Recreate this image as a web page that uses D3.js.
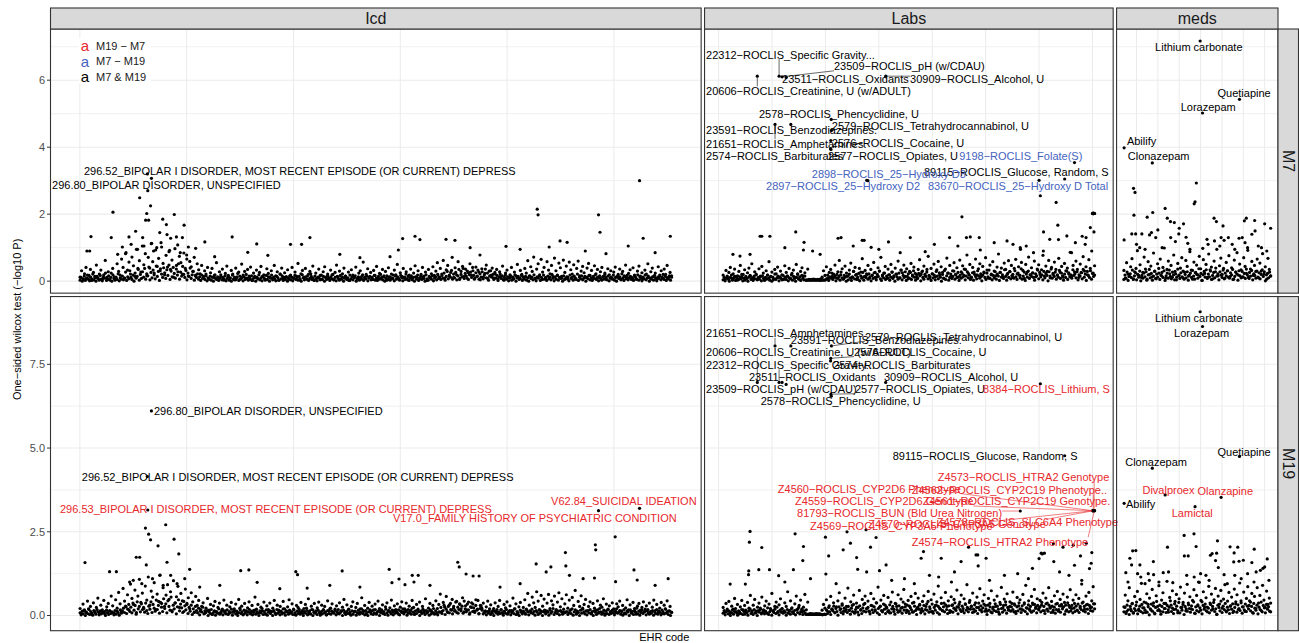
<!DOCTYPE html>
<html>
<head>
<meta charset="utf-8">
<script src="https://cdn.jsdelivr.net/npm/d3@7.9.0/dist/d3.min.js"></script>
<style>
  body { margin: 0; background: #fff; }
  svg text { font-family: "Liberation Sans", Arial, Helvetica, sans-serif; }
</style>
</head>
<body>
<svg id="chart" width="1299" height="643"></svg>
<script>
// facets (columns) and cohorts (rows)
const facetNames = ['Icd', 'Labs', 'meds'];
const rowNames = ['M7', 'M19'];
// EHR code index range of each facet
const codeStart = [1, 2771, 4541];
const codeEnd = [2770, 4510, 5228];
const yBreaks = [[0, 2, 4, 6], [0, 2.5, 5, 7.5]];
const legendKeys = ['m19', 'm7', 'both'];
const legendText = ['M19 \u2212 M7', 'M7 \u2212 M19', 'M7 & M19'];

// -log10 P of the bulk of codes, in code order
const icdM7Band = [0.12,0.31,0.05,0.22,0.41,0.08,0.17,0.35,0.02,0.26,0.14,0.48,0.09,0.21,0.33,0.06,0.19,0.62,0.11,0.28,
  0.04,0.24,0.38,0.13,0.07,0.52,0.29,0.18,0.66,0.41,0.09,0.85,0.33,0.57,0.21,0.72,0.46,0.14,0.95,0.38,
  0.61,0.27,1.05,0.49,0.82,0.16,0.71,0.39,1.12,0.58,0.24,0.93,0.44,0.68,0.31,1.02,0.53,0.19,0.77,0.42,
  0.88,0.35,0.63,0.12,0.97,0.47,0.28,0.74,0.55,0.21,0.84,0.38,0.66,0.15,0.59,0.43,0.29,0.71,0.18,0.52,
  0.34,0.22,0.47,0.09,0.31,0.16,0.41,0.06,0.25,0.38,0.11,0.19,0.55,0.07,0.28,0.14,0.36,0.03,0.23,0.45,
  0.17,0.08,0.32,0.21,0.04,0.39,0.13,0.27,0.06,0.51,0.18,0.29,0.09,0.35,0.15,0.42,0.02,0.24,0.11,0.33,
  0.07,0.26,0.44,0.14,0.19,0.05,0.37,0.23,0.12,0.31,0.08,0.47,0.16,0.28,0.03,0.21,0.39,0.1,0.25,0.13,
  0.34,0.06,0.18,0.41,0.09,0.27,0.15,0.53,0.04,0.22,0.32,0.11,0.38,0.07,0.2,0.29,0.14,0.45,0.02,0.24,
  0.1,0.36,0.17,0.05,0.28,0.43,0.12,0.21,0.08,0.33,0.19,0.04,0.26,0.48,0.13,0.3,0.07,0.22,0.39,0.15,
  0.09,0.27,0.02,0.34,0.18,0.11,0.42,0.06,0.24,0.31,0.14,0.57,0.08,0.2,0.37,0.12,0.26,0.05,0.32,0.17,
  0.44,0.1,0.23,0.07,0.35,0.16,0.29,0.03,0.4,0.13,0.21,0.08,0.33,0.19,0.5,0.06,0.25,0.14,0.38,0.11,
  0.28,0.04,0.18,0.36,0.09,0.24,0.46,0.12,0.31,0.07,0.2,0.41,0.15,0.27,0.02,0.35,0.1,0.22,0.43,0.17,
  0.3,0.55,0.13,0.38,0.21,0.62,0.08,0.34,0.47,0.16,0.26,0.71,0.11,0.4,0.19,0.58,0.05,0.29,0.44,0.14,
  0.36,0.09,0.25,0.52,0.18,0.31,0.06,0.42,0.15,0.27,0.04,0.37,0.12,0.23,0.48,0.08,0.3,0.17,0.39,0.1,
  0.21,0.35,0.07,0.28,0.14,0.45,0.03,0.24,0.33,0.11,0.19,0.41,0.06,0.27,0.16,0.5,0.09,0.32,0.2,0.13,
  0.38,0.24,0.61,0.15,0.43,0.29,0.72,0.08,0.36,0.52,0.19,0.65,0.27,0.41,0.11,0.58,0.33,0.22,0.47,0.14,
  0.69,0.31,0.18,0.54,0.4,0.09,0.63,0.26,0.45,0.12,0.57,0.34,0.21,0.49,0.07,0.38,0.6,0.16,0.3,0.44,
  0.25,0.11,0.39,0.53,0.17,0.32,0.06,0.46,0.22,0.35,0.1,0.28,0.41,0.14,0.24,0.05,0.37,0.19,0.31,0.08,
  0.27,0.42,0.13,0.2,0.36,0.04,0.29,0.16,0.48,0.09,0.23,0.34,0.12,0.4,0.18,0.06,0.3,0.45,0.15,0.25,
  0.07,0.33,0.21,0.52,0.1,0.28,0.39,0.14,0.24,0.05,0.43,0.18,0.31,0.09,0.36,0.2,0.47,0.12,0.26,0.16];
const icdM19Band = [0.21,0.06,0.34,0.15,0.09,0.43,0.18,0.27,0.03,0.38,0.12,0.24,0.52,0.08,0.31,0.17,0.45,0.05,0.26,0.36,
  0.14,0.58,0.29,0.07,0.47,0.22,0.69,0.35,0.11,0.81,0.43,0.26,0.62,0.17,0.94,0.51,0.33,0.76,0.09,0.58,
  1.08,0.39,0.67,0.21,0.88,0.46,1.15,0.31,0.73,0.55,0.98,0.18,0.64,0.42,1.21,0.36,0.83,0.27,0.61,0.92,
  0.48,0.71,0.15,1.04,0.37,0.56,0.87,0.24,0.66,0.44,0.12,0.79,0.33,0.53,0.2,0.68,0.41,0.09,0.57,0.3,
  0.45,0.13,0.27,0.38,0.06,0.22,0.51,0.16,0.33,0.04,0.29,0.42,0.1,0.24,0.37,0.08,0.19,0.46,0.14,0.31,
  0.05,0.26,0.39,0.11,0.2,0.34,0.07,0.48,0.17,0.28,0.02,0.36,0.13,0.23,0.41,0.09,0.3,0.15,0.55,0.19,
  0.33,0.08,0.25,0.14,0.4,0.04,0.29,0.18,0.37,0.11,0.22,0.45,0.06,0.31,0.16,0.27,0.09,0.42,0.2,0.13,
  0.26,0.47,0.1,0.35,0.19,0.03,0.3,0.24,0.12,0.39,0.07,0.21,0.33,0.15,0.5,0.05,0.28,0.17,0.36,0.11,
  0.23,0.4,0.08,0.31,0.16,0.27,0.02,0.44,0.13,0.22,0.35,0.09,0.19,0.29,0.06,0.38,0.14,0.25,0.48,0.1,
  0.32,0.18,0.05,0.27,0.41,0.12,0.24,0.36,0.08,0.2,0.53,0.15,0.3,0.04,0.22,0.39,0.11,0.28,0.17,0.34,
  0.07,0.43,0.21,0.13,0.32,0.06,0.26,0.38,0.15,0.23,0.46,0.1,0.29,0.18,0.35,0.03,0.25,0.41,0.12,0.2,
  0.37,0.09,0.28,0.16,0.45,0.24,0.05,0.33,0.19,0.4,0.11,0.27,0.14,0.5,0.08,0.22,0.36,0.13,0.3,0.06,
  0.44,0.21,0.33,0.64,0.12,0.39,0.25,0.57,0.09,0.31,0.18,0.48,0.27,0.15,0.42,0.07,0.35,0.2,0.53,0.11,
  0.29,0.16,0.4,0.08,0.24,0.34,0.13,0.47,0.19,0.05,0.3,0.22,0.37,0.1,0.26,0.43,0.14,0.32,0.07,0.21,
  0.38,0.12,0.27,0.45,0.18,0.06,0.33,0.23,0.41,0.09,0.29,0.15,0.52,0.2,0.35,0.04,0.26,0.39,0.13,0.24,
  0.47,0.19,0.66,0.31,0.12,0.55,0.38,0.24,0.71,0.43,0.16,0.6,0.28,0.49,0.09,0.37,0.63,0.21,0.44,0.32,
  0.58,0.14,0.4,0.68,0.26,0.5,0.11,0.35,0.62,0.22,0.46,0.17,0.54,0.3,0.75,0.08,0.42,0.27,0.59,0.19,
  0.33,0.48,0.13,0.27,0.41,0.07,0.36,0.22,0.15,0.44,0.1,0.31,0.25,0.5,0.05,0.34,0.18,0.29,0.12,0.38,
  0.2,0.09,0.35,0.26,0.43,0.14,0.3,0.06,0.23,0.47,0.17,0.32,0.11,0.39,0.21,0.04,0.28,0.36,0.16,0.24,
  0.41,0.12,0.29,0.18,0.37,0.07,0.25,0.46,0.15,0.33,0.1,0.22,0.39,0.06,0.31,0.19,0.44,0.13,0.27,0.09];
const labsM7Band = [0.18,0.05,0.32,0.11,0.26,0.41,0.08,0.22,0.36,0.14,0.03,0.29,0.47,0.12,0.2,0.34,0.07,0.25,0.39,0.16,
  0.52,0.1,0.28,0.21,0.06,0.37,0.15,0.44,0.24,0.09,0.31,0.18,0.58,0.13,0.27,0.04,0.35,0.22,0.42,0.11,
  0.3,0.19,0.05,0.46,0.26,0.14,0.38,0.08,0.23,0.33,0.12,0.5,0.2,0.07,0.29,0.4,0.16,0.25,0.03,0.36,
  0.05,0.04,0.05,0.06,0.05,0.04,0.05,0.05,0.06,0.12,0.31,0.17,0.43,0.09,0.26,0.35,0.14,0.21,0.48,0.1,
  0.28,0.62,0.19,0.37,0.07,0.45,0.24,0.15,0.33,0.54,0.11,0.29,0.41,0.2,0.06,0.38,0.27,0.67,0.13,0.32,
  0.22,0.47,0.09,0.35,0.18,0.56,0.26,0.12,0.4,0.3,0.71,0.15,0.24,0.44,0.08,0.36,0.19,0.5,0.27,0.13,
  0.39,0.21,0.6,0.1,0.33,0.25,0.48,0.14,0.37,0.07,0.29,0.53,0.18,0.42,0.23,0.11,0.35,0.64,0.2,0.3,
  0.45,0.16,0.27,0.74,0.09,0.38,0.22,0.51,0.13,0.34,0.59,0.19,0.43,0.26,0.08,0.36,0.69,0.24,0.47,0.15,
  0.31,0.55,0.2,0.4,0.12,0.63,0.28,0.46,0.17,0.35,0.78,0.23,0.5,0.1,0.41,0.27,0.66,0.19,0.37,0.52,
  0.14,0.44,0.25,0.7,0.33,0.09,0.48,0.21,0.58,0.3,0.16,0.42,0.81,0.26,0.39,0.12,0.54,0.35,0.2,0.61,
  0.28,0.47,0.11,0.38,0.65,0.22,0.43,0.17,0.56,0.32,0.08,0.5,0.27,0.72,0.19,0.4,0.24,0.6,0.13,0.36,
  0.49,0.2,0.34,0.77,0.15,0.45,0.29,0.62,0.1,0.41,0.23,0.57,0.35,0.18,0.68,0.26,0.44,0.12,0.53,0.31,
  0.39,0.21,0.86,0.16,0.47,0.28,0.6,0.35,0.11,0.51,0.25,0.73,0.3,0.43,0.19,0.64,0.38,0.9,0.24,0.46];
const labsM19Band = [0.24,0.09,0.36,0.15,0.42,0.07,0.28,0.19,0.51,0.12,0.33,0.05,0.26,0.45,0.17,0.3,0.1,0.39,0.22,0.6,
  0.14,0.31,0.48,0.08,0.25,0.37,0.18,0.55,0.11,0.29,0.43,0.06,0.34,0.21,0.66,0.13,0.27,0.4,0.09,0.32,
  0.5,0.2,0.12,0.38,0.27,0.71,0.15,0.44,0.23,0.08,0.35,0.58,0.19,0.3,0.46,0.11,0.25,0.63,0.17,0.4,
  0.05,0.06,0.05,0.04,0.05,0.06,0.05,0.05,0.04,0.16,0.33,0.22,0.47,0.12,0.29,0.57,0.19,0.38,0.09,0.26,
  0.44,0.68,0.2,0.35,0.13,0.52,0.27,0.82,0.16,0.41,0.3,0.61,0.1,0.37,0.24,0.75,0.18,0.48,0.33,0.58,
  0.21,0.43,0.12,0.66,0.29,0.5,0.17,0.38,0.85,0.25,0.46,0.14,0.6,0.31,0.22,0.54,0.08,0.4,0.7,0.19,
  0.36,0.27,0.62,0.13,0.49,0.24,0.78,0.34,0.16,0.45,0.28,0.57,0.1,0.39,0.66,0.2,0.52,0.31,0.15,0.42,
  0.59,0.18,0.35,0.72,0.26,0.47,0.12,0.64,0.3,0.41,0.88,0.22,0.53,0.15,0.37,0.69,0.27,0.44,0.09,0.56,
  0.32,0.48,0.19,0.76,0.25,0.4,0.61,0.14,0.5,0.33,0.92,0.21,0.45,0.28,0.67,0.11,0.38,0.55,0.24,0.8,
  0.17,0.43,0.62,0.3,0.13,0.51,0.36,0.74,0.2,0.46,0.27,0.58,0.1,0.39,0.84,0.23,0.49,0.32,0.65,0.16,
  0.41,0.26,0.7,0.35,0.12,0.54,0.29,0.47,0.19,0.63,0.38,0.9,0.22,0.44,0.15,0.57,0.33,0.78,0.25,0.5,
  0.2,0.45,0.31,0.67,0.14,0.52,0.37,0.83,0.24,0.42,0.1,0.59,0.34,0.72,0.18,0.48,0.28,0.64,0.39,0.13,
  0.55,0.3,0.77,0.21,0.46,0.36,0.62,0.15,0.51,0.27,0.94,0.4,0.19,0.58,0.33,0.69,0.23,0.44,0.86,0.35];
const medsM7Band = [0.32,0.08,0.55,0.21,0.14,0.43,0.67,0.05,0.28,0.38,0.91,0.17,0.49,0.11,0.26,0.72,0.36,0.03,0.58,0.2,
  0.45,0.13,0.84,0.3,0.07,0.52,0.24,0.66,0.16,0.41,0.99,0.09,0.35,0.6,0.22,0.47,0.12,0.78,0.29,0.04,
  0.53,0.18,0.39,0.7,0.1,0.27,0.62,0.44,0.15,0.88,0.33,0.06,0.57,0.25,0.48,0.19,0.74,0.37,0.02,0.64,
  0.23,0.5,0.11,0.81,0.34,0.42,0.07,0.6,0.28,0.95,0.16,0.46,0.69,0.2,0.38,0.09,0.56,0.31,0.76,0.14,
  0.4,0.05,0.63,0.27,0.85,0.18,0.51,0.34,0.12,0.7,0.44,0.23,0.92,0.08,0.36,0.59,0.17,0.47,0.29,0.66,
  0.1,0.54,0.3,0.82,0.21,0.43,0.06,0.68,0.35,0.15];
const medsM19Band = [0.26,0.61,0.12,0.44,0.83,0.19,0.35,0.07,0.57,0.3,0.72,0.15,0.48,0.96,0.23,0.4,0.09,0.65,0.33,0.52,
  0.17,0.78,0.38,0.05,0.59,0.27,0.89,0.13,0.46,0.68,0.21,0.36,1.02,0.1,0.54,0.31,0.74,0.18,0.42,0.63,
  0.08,0.5,0.85,0.24,0.39,0.67,0.14,0.93,0.32,0.56,0.2,0.45,0.77,0.06,0.6,0.29,0.99,0.16,0.41,0.71,
  0.25,0.53,0.11,0.87,0.37,0.64,0.19,0.47,0.81,0.03,0.58,0.34,0.75,0.22,0.49,0.92,0.13,0.43,0.69,0.28,
  0.55,0.09,0.79,0.35,0.62,0.18,0.97,0.44,0.26,0.7,0.12,0.51,0.86,0.3,0.4,0.66,0.07,0.57,0.21,0.83,
  0.37,0.6,0.15,0.9,0.46,0.24,0.73,0.33,0.52,0.11];

// near-null codes (the floor of the cloud), in hundredths of -log10 P, in code order
const icdM7Floor = [3,11,0,7,15,2,9,18,5,1,12,6,21,4,10,0,14,8,3,17,
  6,1,13,9,24,2,7,16,4,11,0,19,8,3,12,5,22,1,10,6,
  15,4,9,27,2,13,7,31,11,5,18,0,24,9,14,35,3,20,8,28,
  12,38,6,22,16,42,4,26,10,33,19,7,45,14,29,2,37,21,11,40,
  25,8,34,17,48,5,30,13,41,23,9,36,18,52,6,27,15,44,20,11,
  32,4,24,14,39,8,19,29,3,16,11,22,6,13,2,18,9,14,5,21,
  1,10,7,15,3,12,0,17,8,5,13,2,9,19,4,11,6,16,1,8,
  14,3,10,0,18,6,12,4,9,23,2,15,7,11,1,13,5,20,8,3,
  11,6,16,2,9,14,0,12,7,19,4,10,1,15,8,3,17,5,13,0,
  9,18,4,12,6,1,14,10,3,21,7,16,2,11,5,13,0,8,15,4,
  12,1,9,17,5,11,3,14,7,0,19,10,4,13,6,16,2,8,22,5,
  10,3,15,7,1,12,9,4,18,6,14,0,11,5,16,8,2,13,7,20,
  4,11,1,14,8,3,17,6,12,0,9,15,5,10,2,18,7,13,4,11,
  16,0,8,13,3,10,6,19,2,12,7,15,1,9,14,4,11,5,17,3,
  9,2,14,6,20,11,4,13,0,8,16,5,12,3,10,7,18,1,15,6,
  13,8,3,17,10,1,12,5,21,7,14,2,9,16,4,11,0,13,6,18,
  2,10,15,5,12,8,0,19,7,3,14,11,6,16,1,9,13,4,20,8,
  11,5,17,9,24,3,14,29,7,18,12,32,6,21,10,26,4,16,35,9,
  20,13,38,8,23,15,30,5,19,27,11,41,17,9,25,14,33,6,22,12,
  28,7,18,36,10,24,3,15,31,12,20,5,26,9,17,2,13,21,8,16,
  4,11,18,6,13,1,9,15,3,12,7,19,0,10,14,5,8,17,2,11,
  6,14,3,10,0,16,8,12,4,19,7,1,13,9,15,2,11,5,18,6,
  10,2,15,7,12,4,20,9,1,13,6,17,3,11,8,14,0,16,5,9,
  13,6,1,18,8,11,3,15,10,5,21,2,12,7,16,4,9,14,0,12,
  7,17,4,10,2,14,9,19,5,12,1,16,8,3,13,6,20,11,4,15,
  1,9,12,6,18,3,11,0,15,8,13,5,22,10,2,14,7,17,4,10,
  14,5,9,2,16,11,6,19,3,13,8,1,12,7,18,4,10,15,0,9,
  6,13,3,17,9,1,12,8,15,4,11,20,5,14,2,10,7,16,3,12];
const icdM19Floor = [8,2,13,5,17,0,10,6,20,3,12,7,1,15,9,4,18,11,2,14,
  5,10,7,12,0,16,9,3,14,6,11,8,2,15,4,13,9,1,17,7,
  14,22,9,28,6,19,33,12,25,8,37,16,30,4,41,20,27,11,35,18,
  24,10,37,15,6,28,19,41,9,33,22,13,46,18,30,7,39,25,12,50,
  21,35,8,44,27,16,55,11,31,20,38,5,26,47,14,34,23,9,42,29,
  17,36,6,24,13,31,3,20,10,27,15,8,22,2,18,11,25,5,14,9,
  15,0,11,6,18,3,9,14,1,12,7,20,4,10,16,2,13,8,5,17,
  3,12,8,19,1,10,15,5,13,0,9,22,6,11,3,16,7,14,2,10,
  18,5,13,2,9,16,4,11,7,0,14,8,21,3,12,6,17,1,10,15,
  6,12,0,15,9,3,18,7,11,2,13,5,20,8,1,14,10,4,16,7,
  11,3,17,8,1,13,6,19,4,10,15,0,12,7,22,2,9,14,5,18,
  0,10,7,14,3,16,9,1,12,5,18,8,11,2,15,6,20,4,13,9,
  7,15,2,11,18,5,9,13,0,16,8,3,12,6,19,10,1,14,4,11,
  13,1,8,16,4,10,20,6,12,2,15,9,0,11,17,5,14,3,8,18,
  4,11,14,0,9,17,6,12,3,19,8,1,13,10,5,16,2,15,7,12,
  8,17,2,13,9,20,5,11,15,1,18,7,12,4,22,10,3,14,6,16,
  11,0,13,6,19,9,3,15,8,12,1,17,5,10,21,4,14,7,2,11,
  10,24,6,15,31,3,19,12,27,8,36,16,5,22,13,40,9,25,18,33,
  14,28,7,43,20,11,34,17,4,26,38,12,23,9,30,16,45,6,21,29,
  16,5,9,14,2,12,7,20,3,10,15,0,13,8,18,4,11,6,17,9,
  1,13,7,18,4,11,15,2,9,14,6,20,3,12,8,0,16,10,5,13,
  9,4,17,11,2,14,8,19,6,12,1,15,10,3,18,7,13,0,11,16,
  5,14,10,1,16,7,12,21,3,9,18,6,13,2,15,11,4,19,8,10,
  12,3,8,15,6,20,1,11,17,4,13,9,0,16,7,22,10,5,14,2,
  15,8,18,5,12,0,14,10,3,17,7,21,11,4,9,16,1,13,6,19,
  3,11,6,16,9,2,13,20,7,10,15,4,12,1,18,8,5,14,11,0,
  17,7,12,3,15,10,22,5,13,1,9,16,6,11,19,2,14,8,4,12,
  8,15,1,11,6,18,4,13,9,2,16,10,5,20,7,12,3,14,0,10];
const labsM7Floor = [4,12,1,9,15,6,0,11,18,3,8,14,2,10,16,5,13,7,20,1,
  9,3,14,8,0,12,17,5,10,2,15,7,19,4,11,6,13,1,16,8,
  2,11,6,18,9,3,14,0,12,7,21,5,10,15,1,13,8,4,17,6,
  12,5,16,1,10,7,19,3,14,8,0,11,22,6,13,2,17,9,4,15,
  3,3,4,3,3,4,3,3,4,3,3,4,3,3,2,3,4,3,3,4,
  7,18,2,13,9,24,5,11,16,1,20,8,14,3,27,10,6,17,12,0,
  15,4,21,10,2,13,29,7,18,5,12,23,1,16,9,26,3,14,11,19,
  6,22,13,1,17,8,25,11,4,20,14,30,7,2,18,10,24,5,15,9,
  19,3,12,27,8,16,0,21,13,6,24,10,33,4,17,11,28,2,14,22,
  9,26,5,15,31,12,3,19,8,23,16,1,27,11,6,20,14,35,7,17,
  13,2,22,10,18,4,29,15,7,25,12,0,20,9,32,5,16,24,3,11,
  21,8,14,30,6,19,11,26,2,17,9,23,13,36,4,15,28,10,18,5,
  12,25,3,20,14,7,31,16,9,22,1,18,27,11,5,24,13,33,8,19,
  4,17,10,28,6,21,15,2,26,12,19,8,34,14,3,23,11,29,7,16,
  20,9,31,13,5,24,18,10,37,6,15,27,2,21,12,30,8,19,14,25,
  11,3,22,16,33,7,26,13,19,4,29,10,23,17,1,28,15,36,9,20,
  14,27,6,18,12,32,8,24,16,3,21,11,30,5,25,13,19,9,34,17,
  22,10,28,4,19,15,26,7,35,12,21,2,29,17,11,31,6,23,14,18];
const labsM19Floor = [7,15,2,11,19,5,13,0,9,17,4,12,21,8,1,14,10,6,18,3,
  12,4,16,9,1,14,20,6,11,3,18,8,13,0,15,10,22,5,9,17,
  5,13,8,23,3,11,17,1,14,9,19,6,25,12,2,16,10,21,7,14,
  10,1,18,7,13,4,20,11,6,15,2,17,9,24,5,12,19,3,14,8,
  3,4,3,3,4,3,3,4,3,3,4,3,3,4,3,3,2,3,4,3,
  16,6,24,11,3,19,14,28,8,21,12,1,26,17,9,31,5,22,13,18,
  9,27,15,4,22,12,33,7,18,25,10,2,29,16,6,23,13,36,11,20,
  24,13,5,30,17,9,26,14,38,8,21,3,28,15,11,34,19,6,25,12,
  15,32,8,20,27,12,4,35,18,10,29,14,22,7,40,16,26,9,31,13,
  6,23,17,37,11,28,15,3,25,19,33,8,21,13,30,5,27,16,42,10,
  20,12,34,7,24,16,31,9,27,4,19,36,14,26,11,32,18,6,29,15,
  13,30,10,22,38,15,26,5,33,18,12,28,21,8,35,16,24,11,39,19,
  27,9,19,32,14,24,6,37,17,29,11,23,34,13,20,3,31,16,26,10,
  8,25,15,35,12,28,19,4,33,21,10,30,16,41,7,24,18,27,13,36,
  18,11,31,6,26,14,38,20,9,29,16,34,12,23,5,32,19,27,10,37,
  14,33,21,8,30,17,25,11,39,15,27,6,35,19,13,31,22,9,28,16,
  25,7,18,36,13,29,10,33,20,26,4,31,17,38,11,24,14,30,8,22,
  12,28,16,34,9,23,18,37,14,27,11,32,19,6,30,15,25,13,35,20];
const medsM7Floor = [5,18,9,27,2,14,22,11,33,7,16,25,4,20,12,30,1,17,9,24,
  13,28,6,19,35,10,23,3,15,29,8,21,12,38,5,18,26,11,31,2,
  16,24,9,33,14,7,27,19,4,22,12,36,17,8,25,13,30,6,20,10,
  28,3,18,24,11,32,15,6,26,20,9,37,14,23,2,19,29,12,34,8,
  21,13,30,5,17,26,10,39,15,22,4,28,18,11,33,7,24,16,31,12,
  9,25,19,35,6,14,27,21,3,31,16,10,29,13,23,8,36,18,11,26,
  15,32,4,22,17,9,30,12,25,7,20,34,14,28,1,19,23,10,27,16];
const medsM19Floor = [11,24,6,31,17,3,27,14,36,9,21,15,40,5,19,28,12,33,8,23,
  16,38,10,26,2,20,34,13,29,7,24,42,15,18,31,4,27,11,36,21,
  9,30,17,25,44,12,22,6,35,19,28,14,39,8,24,16,33,3,27,20,
  13,37,21,10,29,18,41,7,26,15,32,11,23,45,5,30,19,34,14,25,
  22,8,33,16,27,39,12,20,4,31,24,14,43,9,28,18,36,11,25,17,
  6,29,19,35,13,24,41,10,32,21,15,38,7,26,17,34,12,28,20,44,
  14,27,9,36,22,16,31,5,25,18,40,11,30,23,8,33,19,26,13,37];

// higher, scattered codes: [code, -log10 P]
const icdM7Pts = [[155,2.06],[280,2.49],[331,2.25],[313,2.02],[308,1.82],[322,1.82],[388,1.85],[442,1.99],[488,1.67],[405,1.69],
  [52,1.33],[147,1.3],[261,1.49],[230,1.32],[374,1.45],[408,1.39],[452,1.32],[480,1.3],[508,1.02],[585,1.17],
  [713,1.32],[828,1.11],[986,1.1],[1038,1.1],[1077,1.3],[1511,1.27],[1569,1.34],[1592,1.24],[33,0.9],[46,0.9],
  [199,1.02],[1491,0.93],[1452,0.73],[336,1.13],[360,1.0],[294,1.3],[425,1.28],[458,1.08],[214,0.82],[177,0.8],
  [542,0.98],[631,0.73],[786,0.86],[880,0.77],[1714,1.25],[1756,1.22],[1827,1.0],[1995,1.04],[2061,0.95],[2141,2.15],
  [2145,1.98],[2197,1.02],[2281,1.16],[2428,1.98],[2435,1.46],[2463,0.82],[2620,3.0],[2637,1.28],[2764,1.34],[2366,0.9],
  [2248,1.2],[2567,1.05],[2693,0.85],[1873,0.78],[1217,0.8],[1311,0.7],[318,2.7],[240,1.1],[270,0.95],[300,1.05],
  [345,0.9],[380,1.15],[420,0.92],[470,0.85],[500,0.78]];
const icdM19Pts = [[307,2.61],[322,2.43],[331,2.26],[366,2.08],[402,2.71],[441,2.28],[463,1.84],[264,1.74],[280,1.74],[24,1.58],
  [139,1.31],[171,1.31],[311,1.51],[408,1.59],[514,1.38],[753,1.34],[791,1.36],[830,0.99],[1011,1.31],[1019,1.22],
  [1228,1.33],[1448,1.38],[1494,1.09],[1556,1.2],[1584,1.2],[1522,0.92],[1064,0.82],[1170,0.9],[1769,1.59],[1776,1.45],
  [1808,1.24],[1841,1.18],[1869,1.18],[2136,1.54],[2183,1.3],[2205,1.45],[2273,1.88],[2275,1.48],[2292,1.2],[2356,1.1],
  [2413,2.11],[2415,1.96],[2409,1.12],[2506,2.35],[2508,1.01],[2594,1.36],[2609,1.06],[1461,0.98],[1564,1.0],[561,0.85],
  [655,0.9],[936,0.8],[1311,0.85],[1639,0.9],[1967,0.85],[2061,0.95],[2693,0.9],[2754,1.1],[374,1.2],[233,1.0],
  [425,1.2],[491,1.1],[250,1.05],[290,0.95],[340,1.1],[390,0.9],[455,0.95]];
const labsM7Pts = [[3889,1.92],[4338,1.67],[4271,1.47],[4341,1.24],[4500,2.02],[4501,2.02],[4502,2.03],[4503,2.02],[4504,2.01],[4505,2.02],
  [4506,2.03],[4508,2.02],[4509,2.02],[4510,2.02],[4507,1.47],[4452,1.34],[4466,1.1],[4330,2.35],[4256,2.55],[4162,1.0],
  [2944,1.34],[2952,1.34],[2990,1.34],[3111,1.47],[3150,1.16],[3147,0.93],[3309,1.28],[3323,1.3],[3422,1.22],[3431,1.22],
  [3464,1.01],[3545,1.17],[3647,1.3],[3831,1.3],[3910,1.3],[3928,1.32],[3970,1.3],[3975,0.93],[4128,1.1],[4163,0.95],
  [4224,0.85],[4270,0.9],[4402,0.85],[2897,0.8],[2817,0.8],[2850,0.75],[3225,0.8],[3600,0.85],[3717,0.88],[3060,1.0],
  [3190,0.9],[3380,1.05],[3500,0.95],[3760,1.1],[3870,1.05],[4040,1.15],[4100,1.2],[4190,1.05],[4300,1.25],[4380,1.35],
  [4420,1.15],[4470,1.3],[4490,1.6]];
const labsM19Pts = [[2897,2.51],[2894,2.19],[2952,2.03],[3108,2.44],[3147,2.06],[3144,1.64],[3250,2.34],[3351,2.5],[3333,1.96],[3440,2.56],
  [3487,2.33],[3461,2.04],[3396,1.73],[3265,1.78],[3367,2.16],[3698,1.71],[3955,1.81],[4260,1.86],[4275,1.86],[4497,1.88],
  [4471,2.16],[4317,2.14],[3709,1.91],[3792,1.71],[3885,1.61],[3963,1.81],[3965,1.48],[4002,1.71],[4265,1.84],[4362,2.04],
  [4444,1.78],[4494,1.56],[4319,1.61],[4219,1.41],[3920,2.04],[2891,1.33],[2890,1.22],[2938,1.37],[2988,1.37],[3100,1.37],
  [3031,1.19],[3252,1.24],[3401,1.38],[3503,1.34],[3534,1.51],[2875,0.94],[2804,0.94],[3620,1.1],[3737,1.2],[3854,1.3],
  [4088,1.2],[4346,1.3],[4416,1.5],[4410,2.1],[3443,1.3],[4250,1.7],[4486,1.4],[4018,1.05],[3666,0.95],[3060,1.0],
  [3180,1.1],[3300,0.95],[3560,1.05],[3780,1.15],[3840,1.0],[4150,1.25],[4200,1.1],[4390,1.2],[4450,1.05]];
const medsM7Pts = [[4880,2.93],[4874,2.37],[4870,2.31],[4586,2.77],[4593,2.65],[4588,1.97],[4676,2.05],[4734,2.17],[4996,1.3],[4650,1.91],
  [4744,1.88],[4759,1.78],[4777,1.75],[4800,1.58],[4820,1.71],[4963,1.88],[4974,1.78],[5005,1.65],[5114,1.88],[5153,1.81],
  [5200,1.71],[5228,1.58],[5105,1.8],[4700,1.53],[4542,1.23],[4578,1.41],[4596,1.41],[4625,1.41],[4661,1.38],[4670,1.45],
  [4690,1.3],[4760,1.3],[4782,1.18],[4798,1.41],[4832,1.31],[4840,1.13],[4930,1.25],[4935,1.1],[4965,1.2],[4990,1.05],
  [5010,1.22],[5030,1.3],[5048,1.1],[5080,1.28],[5095,1.3],[5108,1.15],[5140,1.4],[5155,1.5],[5170,1.05],[5185,1.0],
  [4600,1.1],[4615,1.0],[4640,0.95],[4720,1.0],[4850,0.95],[4910,0.98],[5060,0.95],[5120,1.0],[5210,0.9]];
const medsM19Pts = [[4823,2.39],[4869,2.44],[4979,2.23],[4597,1.94],[4745,2.04],[4879,2.06],[5038,2.05],[5074,2.04],[5151,1.98],[4842,1.78],
  [4954,1.85],[4569,1.71],[4577,1.51],[4582,1.93],[4616,1.51],[4679,1.61],[4824,1.78],[4946,1.8],[4975,1.86],[4970,1.64],
  [4983,1.43],[5057,1.87],[5055,1.6],[5080,1.62],[5100,1.65],[5140,1.58],[5212,1.69],[5192,1.41],[4550,1.28],[4605,1.25],
  [4620,1.15],[4655,1.25],[4680,1.22],[4725,1.28],[4750,1.3],[4660,1.05],[4705,1.0],[4835,1.2],[4870,1.15],[4900,1.25],
  [4925,1.2],[4940,1.05],[5010,1.22],[5060,1.2],[5090,1.1],[5120,1.25],[5160,1.3],[5180,1.35],[5200,1.45],[4560,1.0],
  [4640,0.95],[4770,0.98],[4890,1.0],[5025,0.95],[5150,1.0],[5220,1.05]];

// labelled codes: [code, -log10 P, name, group, label start code, label value]
const icdM7Labels = [
  [316, 3.2, '296.52_BIPOLAR I DISORDER, MOST RECENT EPISODE (OR CURRENT) DEPRESS', 'both', 19, 3.29],
  [335, 3.07, '296.80_BIPOLAR DISORDER, UNSPECIFIED', 'both', -130, 2.87]];
const icdM19Labels = [
  [335, 6.11, '296.80_BIPOLAR DISORDER, UNSPECIFIED', 'both', 347, 6.1],
  [316, 4.15, '296.52_BIPOLAR I DISORDER, MOST RECENT EPISODE (OR CURRENT) DEPRESS', 'both', 9, 4.14],
  [318, 3.15, '296.53_BIPOLAR I DISORDER, MOST RECENT EPISODE (OR CURRENT) DEPRESS', 'm19', -93, 3.18],
  [2620, 3.2, 'V62.84_SUICIDAL IDEATION', 'm19', 2206, 3.4],
  [2428, 3.13, 'V17.0_FAMILY HISTORY OF PSYCHIATRIC CONDITION', 'm19', 1466, 2.92]];
const labsM7Labels = [
  [3033, 6.12, '22312\u2212ROCLIS_Specific Gravity...', 'both', 2691, 6.76],
  [3047, 6.1, '23509\u2212ROCLIS_pH (w/CDAU)', 'both', 3290, 6.41],
  [3066, 6.08, '23511\u2212ROCLIS_Oxidants', 'both', 3047, 6.03],
  [3532, 6.12, '30909\u2212ROCLIS_Alcohol, U', 'both', 3646, 6.03],
  [2931, 6.12, '20606\u2212ROCLIS_Creatinine, U (w/ADULT)', 'both', 2691, 5.68],
  [3277, 4.83, '2578\u2212ROCLIS_Phencyclidine, U', 'both', 2939, 4.99],
  [3278, 4.5, '2579\u2212ROCLIS_Tetrahydrocannabinol, U', 'both', 3280, 4.64],
  [3088, 4.68, '23591\u2212ROCLIS_Benzodiazepines.', 'both', 2691, 4.52],
  [3014, 4.68, '21651\u2212ROCLIS_Amphetamines.', 'both', 2691, 4.1],
  [3275, 4.2, '2576\u2212ROCLIS_Cocaine, U', 'both', 3280, 4.12],
  [3274, 3.95, '2574\u2212ROCLIS_Barbiturates', 'both', 2691, 3.72],
  [3276, 3.93, '2577\u2212ROCLIS_Opiates, U', 'both', 3262, 3.72],
  [4416, 3.54, '9198\u2212ROCLIS_Folate(S)', 'm7', 3876, 3.72],
  [4370, 3.05, '89115\u2212ROCLIS_Glucose, Random, S', 'both', 3711, 3.24],
  [3443, 3.01, '2898\u2212ROCLIS_25\u2212Hydroxy D3', 'm7', 3186, 3.2],
  [3449, 3.0, '2897\u2212ROCLIS_25\u2212Hydroxy D2', 'm7', 2972, 2.85],
  [4250, 3.01, '83670\u2212ROCLIS_25\u2212Hydroxy D Total', 'm7', 3730, 2.85]];
const labsM19Labels = [
  [3014, 8.05, '21651\u2212ROCLIS_Amphetamines.', 'both', 2691, 8.42],
  [3278, 8.05, '2579\u2212ROCLIS_Tetrahydrocannabinol, U', 'both', 3435, 8.32],
  [3088, 8.05, '23591\u2212ROCLIS_Benzodiazepines.', 'both', 3088, 8.22],
  [2931, 6.96, '20606\u2212ROCLIS_Creatinine, U (w/ADULT)', 'both', 2691, 7.86],
  [3275, 7.68, '2576\u2212ROCLIS_Cocaine, U', 'both', 3384, 7.86],
  [3033, 6.96, '22312\u2212ROCLIS_Specific Gravity...', 'both', 2691, 7.48],
  [3274, 7.6, '2574\u2212ROCLIS_Barbiturates', 'both', 3286, 7.48],
  [3066, 6.9, '23511\u2212ROCLIS_Oxidants', 'both', 2892, 7.11],
  [3532, 6.96, '30909\u2212ROCLIS_Alcohol, U', 'both', 3524, 7.11],
  [3047, 6.96, '23509\u2212ROCLIS_pH (w/CDAU)', 'both', 2691, 6.75],
  [3276, 6.61, '2577\u2212ROCLIS_Opiates, U', 'both', 3388, 6.75],
  [4256, 6.92, '8384\u2212ROCLIS_Lithium, S', 'm19', 3988, 6.75],
  [3277, 6.55, '2578\u2212ROCLIS_Phencyclidine, U', 'both', 2947, 6.41],
  [4370, 4.77, '89115\u2212ROCLIS_Glucose, Random, S', 'both', 3565, 4.76],
  [4508, 3.13, 'Z4573\u2212ROCLIS_HTRA2 Genotype', 'm19', 3776, 4.14],
  [4502, 3.13, 'Z4560\u2212ROCLIS_CYP2D6 Phenotype', 'm19', 3027, 3.77],
  [4504, 3.13, 'Z4562\u2212ROCLIS_CYP2C19 Phenotype..', 'm19', 3654, 3.75],
  [4501, 3.13, 'Z4559\u2212ROCLIS_CYP2D6 Genotype', 'm19', 3108, 3.4],
  [4503, 3.13, 'Z4561\u2212ROCLIS_CYP2C19 Genotype.', 'm19', 3706, 3.4],
  [4162, 3.12, '81793\u2212ROCLIS_BUN (Bld Urea Nitrogen)', 'm19', 3117, 3.05],
  [4505, 3.13, 'Z4569\u2212ROCLIS_CYP3A5 Phenotype', 'm19', 3178, 2.67],
  [4506, 3.13, 'Z4570\u2212ROCLIS_CYP3A5 Genotype', 'm19', 3450, 2.73],
  [4510, 3.13, 'Z4578\u2212ROCLIS_SLC6A4 Phenotype', 'm19', 3771, 2.79],
  [4509, 3.13, 'Z4574\u2212ROCLIS_HTRA2 Phenotype', 'm19', 3654, 2.2]];
const medsM7Labels = [
  [4898, 7.17, 'Lithium carbonate', 'both', 4687, 7.0],
  [5082, 5.43, 'Quetiapine', 'both', 4979, 5.61],
  [4909, 5.02, 'Lorazepam', 'both', 4807, 5.19],
  [4542, 3.98, 'Abilify', 'both', 4555, 4.17],
  [4674, 3.53, 'Clonazepam', 'both', 4559, 3.72]];
const medsM19Labels = [
  [4898, 9.07, 'Lithium carbonate', 'both', 4687, 8.88],
  [4909, 8.63, 'Lorazepam', 'both', 4776, 8.42],
  [5082, 4.75, 'Quetiapine', 'both', 4979, 4.89],
  [4674, 4.4, 'Clonazepam', 'both', 4547, 4.57],
  [4734, 3.6, 'Divalproex', 'm19', 4628, 3.75],
  [4996, 3.53, 'Olanzapine', 'm19', 4885, 3.7],
  [4542, 3.35, 'Abilify', 'both', 4551, 3.32],
  [4874, 3.25, 'Lamictal', 'm19', 4765, 3.05]];

const bands = [[icdM7Band, labsM7Band, medsM7Band], [icdM19Band, labsM19Band, medsM19Band]];
const floors = [[icdM7Floor, labsM7Floor, medsM7Floor], [icdM19Floor, labsM19Floor, medsM19Floor]];
const outliers = [[icdM7Pts, labsM7Pts, medsM7Pts], [icdM19Pts, labsM19Pts, medsM19Pts]];
const labels = [[icdM7Labels, labsM7Labels, medsM7Labels], [icdM19Labels, labsM19Labels, medsM19Labels]];

const groupColor = { both: '#000000', m19: '#E8282C', m7: '#4563BE' };
const xGridStep = [500, 250, 100];

const svg = d3.select('#chart');
const L = 50.5, R = 1278, T = 29, B = 630.7, gap = 3.4;

// free x scales with space proportional to the code range (5% padding)
const xDomains = codeStart.map((s, i) => {
  const r = codeEnd[i] - s;
  return [s - 0.05 * r, codeEnd[i] + 0.05 * r];
});
const kx = (R - L - gap * 2) / d3.sum(xDomains, d => d[1] - d[0]);
let cx = L;
const xScales = xDomains.map(d => {
  const w = (d[1] - d[0]) * kx;
  const s = d3.scaleLinear().domain(d).range([cx, cx + w]);
  cx += w + gap;
  return s;
});

// spread an ordered list of values over the facet's codes
function spread(values, f, unit) {
  const step = (codeEnd[f] - codeStart[f]) / (values.length - 1);
  return values.map((v, i) => [codeStart[f] + i * step, v * unit]);
}

function facetPoints(r, f) {
  return spread(floors[r][f], f, 0.01)
    .concat(spread(bands[r][f], f, 1))
    .concat(outliers[r][f])
    .concat(labels[r][f].map(d => [d[0], d[1]]));
}

// free y scales, height proportional to range
const yDomains = rowNames.map((_, r) => {
  const hi = d3.max(facetNames, (_, f) => d3.max(facetPoints(r, f), d => d[1]));
  return [-0.05 * hi, hi * 1.05];
});
const ky = (B - T - gap) / d3.sum(yDomains, d => d[1] - d[0]);
let cy = T;
const yScales = yDomains.map(d => {
  const h = (d[1] - d[0]) * ky;
  const s = d3.scaleLinear().domain(d).range([cy + h, cy]);
  cy += h + gap;
  return s;
});

const gridLayer = svg.append('g');
const pointLayer = svg.append('g');
const segLayer = svg.append('g');
const textLayer = svg.append('g');
const frameLayer = svg.append('g');

rowNames.forEach((rowName, r) => {
  const y = yScales[r];
  const breaks = yBreaks[r];
  const bstep = breaks[1] - breaks[0];
  const minors = d3.range(breaks[0] + bstep / 2, y.domain()[1], bstep);

  facetNames.forEach((facet, f) => {
    const x = xScales[f];
    const [x0, x1] = x.range();
    const [y1, y0] = y.range();

    gridLayer.append('rect')
      .attr('x', x0).attr('y', y0).attr('width', x1 - x0).attr('height', y1 - y0)
      .attr('fill', '#fff');

    gridLayer.selectAll(null).data(minors).join('line')
      .attr('x1', x0).attr('x2', x1)
      .attr('y1', d => y(d)).attr('y2', d => y(d))
      .attr('stroke', '#ebebeb').attr('stroke-width', 0.7);
    gridLayer.selectAll(null).data(breaks).join('line')
      .attr('x1', x0).attr('x2', x1)
      .attr('y1', d => y(d)).attr('y2', d => y(d))
      .attr('stroke', '#ebebeb').attr('stroke-width', 1.1);

    const st = xGridStep[f];
    const vlines = d3.range(Math.ceil(x.domain()[0] / st) * st, x.domain()[1], st);
    gridLayer.selectAll(null).data(vlines).join('line')
      .attr('x1', d => x(d)).attr('x2', d => x(d))
      .attr('y1', y0).attr('y2', y1)
      .attr('stroke', '#ebebeb').attr('stroke-width', 1);

    pointLayer.selectAll(null).data(facetPoints(r, f)).join('circle')
      .attr('cx', d => x(d[0])).attr('cy', d => y(d[1]))
      .attr('r', 1.6).attr('fill', '#000');

    // labels with repel-style leader segments
    labels[r][f].forEach(d => {
      const color = groupColor[d[3]];
      const t = textLayer.append('text')
        .attr('x', x(d[4])).attr('y', y(d[5])).attr('dy', '0.35em')
        .attr('font-size', 11).attr('fill', color)
        .text(d[2]);
      const bb = t.node().getBBox();
      const px = x(d[0]), py = y(d[1]);
      const nx = Math.max(bb.x, Math.min(px, bb.x + bb.width));
      const ny = Math.max(bb.y + 1.5, Math.min(py, bb.y + bb.height - 1.5));
      const dist = Math.hypot(nx - px, ny - py);
      if (dist > 7) {
        const ux = (nx - px) / dist, uy = (ny - py) / dist;
        segLayer.append('line')
          .attr('x1', px + ux * 1.5).attr('y1', py + uy * 1.5)
          .attr('x2', nx).attr('y2', ny)
          .attr('stroke', color).attr('stroke-width', 0.6);
      }
    });

    frameLayer.append('rect')
      .attr('x', x0).attr('y', y0).attr('width', x1 - x0).attr('height', y1 - y0)
      .attr('fill', 'none').attr('stroke', '#333').attr('stroke-width', 1.1);
  });

  // y axis ticks
  frameLayer.selectAll(null).data(breaks).join('line')
    .attr('x1', L - 3.5).attr('x2', L)
    .attr('y1', d => y(d)).attr('y2', d => y(d))
    .attr('stroke', '#333').attr('stroke-width', 1);
  const fmt = r === 0 ? d3.format('d') : d3.format('.1f');
  frameLayer.selectAll(null).data(breaks).join('text')
    .attr('x', L - 5.5).attr('y', d => y(d)).attr('dy', '0.35em')
    .attr('text-anchor', 'end').attr('font-size', 11).attr('fill', '#4d4d4d')
    .text(d => fmt(d));

  // row strip on the right
  const [ry1, ry0] = y.range();
  frameLayer.append('rect')
    .attr('x', R).attr('y', ry0).attr('width', 20.5).attr('height', ry1 - ry0)
    .attr('fill', '#d9d9d9').attr('stroke', '#333').attr('stroke-width', 1.1);
  frameLayer.append('text')
    .attr('transform', `translate(${R + 10.25},${(ry0 + ry1) / 2}) rotate(90)`)
    .attr('text-anchor', 'middle').attr('dy', '0.35em')
    .attr('font-size', 16).attr('fill', '#1a1a1a')
    .text(rowName);
});

// column strips
facetNames.forEach((facet, f) => {
  const [x0, x1] = xScales[f].range();
  frameLayer.append('rect')
    .attr('x', x0).attr('y', 8).attr('width', x1 - x0).attr('height', T - 8)
    .attr('fill', '#d9d9d9').attr('stroke', '#333').attr('stroke-width', 1.1);
  frameLayer.append('text')
    .attr('x', (x0 + x1) / 2).attr('y', (T + 8) / 2).attr('dy', '0.35em')
    .attr('text-anchor', 'middle').attr('font-size', 16).attr('fill', '#1a1a1a')
    .text(facet);
});

// legend inside the Icd / M7 panel
const lg = textLayer.append('g').attr('transform', 'translate(79,38)');
lg.append('rect').attr('width', 72).attr('height', 46).attr('fill', '#fff');
legendKeys.forEach((k, i) => {
  lg.append('text')
    .attr('x', 6).attr('y', 7.7 + i * 15.6).attr('dy', '0.35em')
    .attr('text-anchor', 'middle').attr('font-size', 15).attr('fill', groupColor[k])
    .text('a');
  lg.append('text')
    .attr('x', 17).attr('y', 7.7 + i * 15.6).attr('dy', '0.35em')
    .attr('font-size', 11).attr('fill', '#1a1a1a')
    .text(legendText[i]);
});

// axis titles
svg.append('text')
  .attr('transform', `translate(17,${(8 + B) / 2}) rotate(-90)`)
  .attr('text-anchor', 'middle').attr('dy', '0.35em')
  .attr('font-size', 11).attr('fill', '#000')
  .text('One\u2212sided wilcox test (\u2212log10 P)');
svg.append('text')
  .attr('x', (L + R) / 2).attr('y', 641)
  .attr('text-anchor', 'middle')
  .attr('font-size', 11).attr('fill', '#000')
  .text('EHR code');
</script>
</body>
</html>
